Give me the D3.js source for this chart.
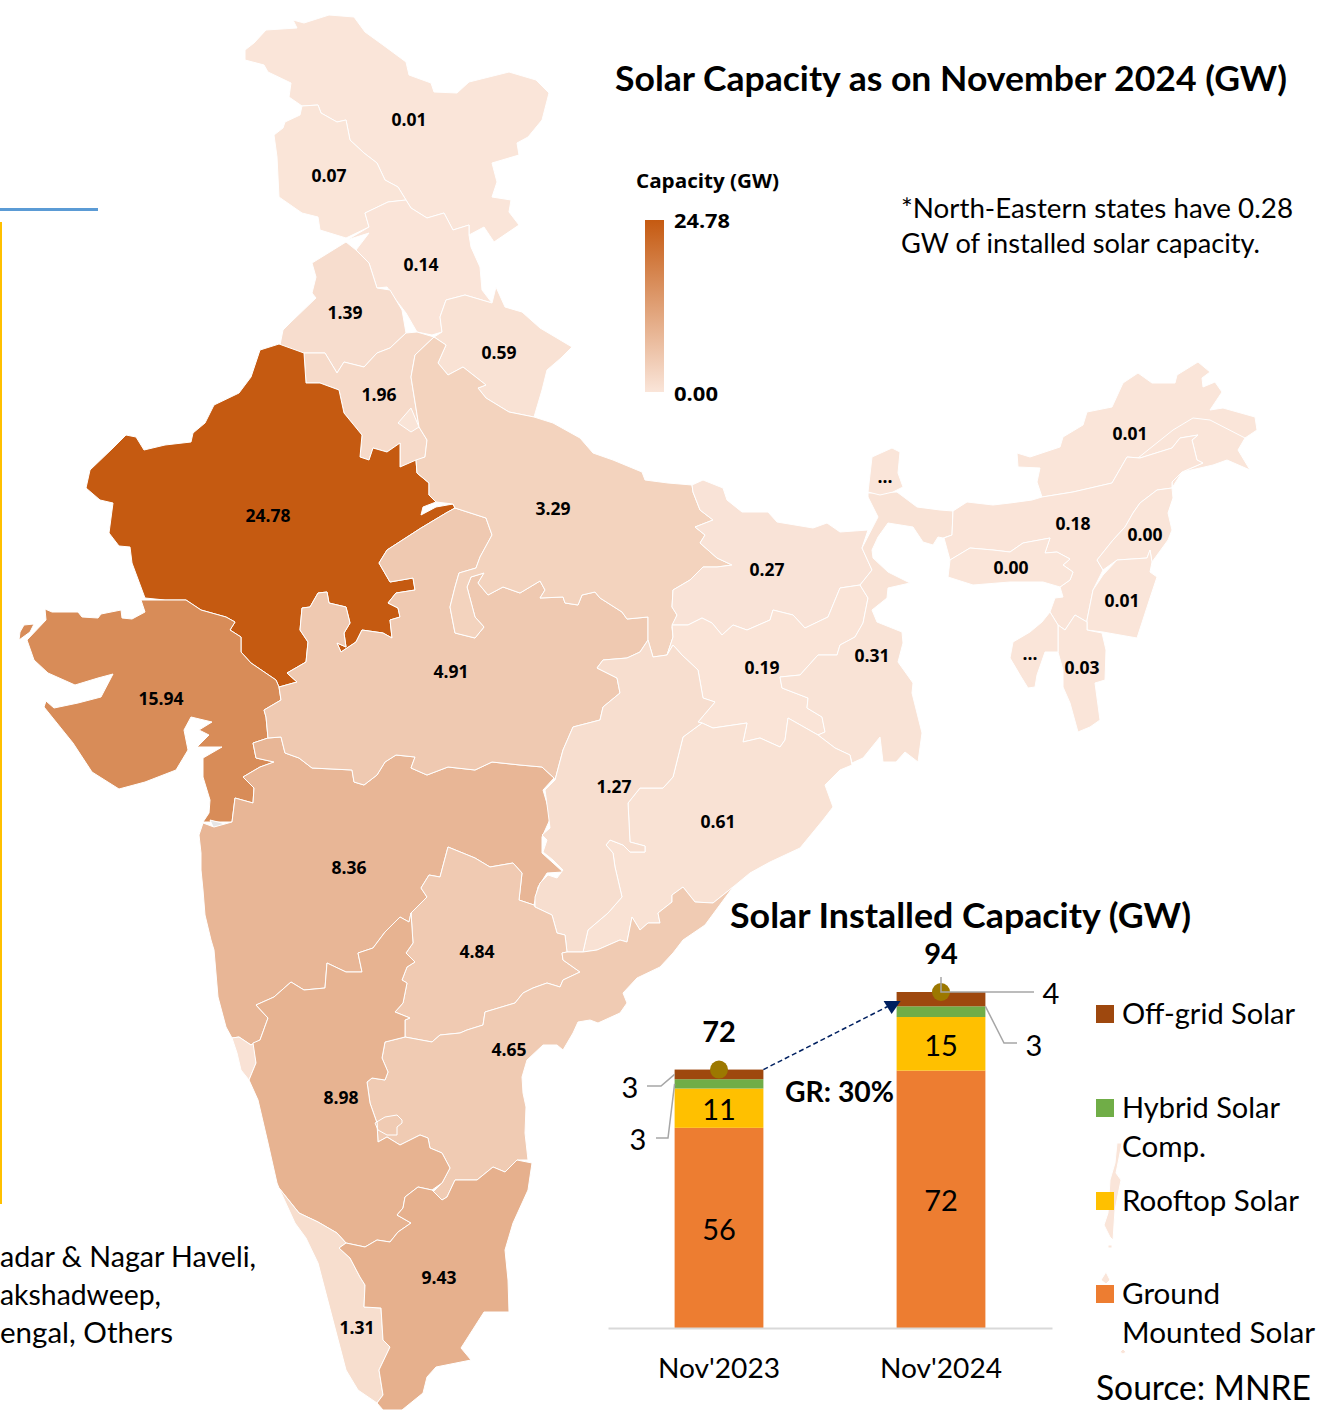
<!DOCTYPE html>
<html>
<head>
<meta charset="utf-8">
<script src="https://cdn.jsdelivr.net/npm/d3@7/dist/d3.min.js"></script>
<style>
body { margin: 0; background: #fff; }
svg { display: block; }
</style>
</head>
<body>
<svg></svg>
<script>
var ladakh = [[245,60],[245,50],[254,43],[266,30],[297,28],[293,20],[304,23],[329,15],[354,17],[365,32],[383,45],[406,62],[409,75],[431,83],[434,92],[457,93],[469,82],[509,72],[536,80],[549,93],[542,120],[528,137],[517,143],[519,155],[492,163],[497,182],[492,197],[511,200],[509,212],[519,225],[494,242],[484,227],[469,235],[469,225],[453,230],[444,213],[427,218],[411,208],[406,200],[398,187],[385,180],[377,163],[364,153],[350,140],[346,120],[337,122],[321,113],[318,105],[302,106],[289,97],[291,83],[268,72],[264,65]];
var jammu = [[302,106],[300,115],[285,122],[283,128],[274,135],[277,157],[279,197],[302,213],[318,217],[320,230],[346,238],[369,227],[365,213],[388,202],[406,200],[398,187],[385,180],[377,163],[364,153],[350,140],[346,120],[337,122],[321,113],[318,105]];
var himachal = [[347,240],[369,233],[356,250],[369,263],[377,288],[387,287],[396,300],[406,313],[417,332],[432,335],[442,332],[440,317],[446,300],[465,295],[492,303],[482,290],[480,267],[471,247],[469,235],[469,225],[453,230],[444,213],[427,218],[411,208],[406,200],[388,202],[365,213],[369,227]];
var uttarakhand = [[446,300],[465,295],[492,303],[496,287],[505,307],[522,312],[540,328],[572,347],[561,358],[547,370],[542,390],[534,417],[509,412],[486,398],[478,388],[486,385],[463,367],[448,375],[438,363],[446,345],[434,337],[442,332],[440,317]];
var punjab = [[346,242],[325,255],[312,263],[316,277],[312,293],[316,298],[291,322],[283,330],[279,350],[304,353],[325,353],[337,373],[344,362],[364,367],[377,353],[390,348],[406,333],[402,310],[390,290],[377,288],[369,263],[356,250]];
var haryana = [[304,353],[306,383],[320,383],[339,390],[344,413],[362,435],[360,457],[369,460],[373,448],[387,452],[400,443],[400,467],[425,457],[427,440],[419,427],[411,377],[415,355],[434,337],[417,332],[406,333],[390,348],[377,353],[364,367],[344,362],[337,373],[325,353]];
var delhi = [[411,408],[419,427],[411,432],[398,423]];
var rajasthan = [[279,344],[260,350],[251,377],[239,393],[214,405],[205,423],[193,433],[191,442],[165,445],[144,450],[136,437],[126,435],[113,448],[90,470],[86,488],[100,500],[113,503],[109,533],[119,546],[130,547],[132,563],[145,598],[165,600],[186,600],[201,610],[226,617],[235,622],[230,630],[241,637],[241,652],[251,663],[276,680],[279,687],[297,682],[287,673],[306,662],[308,642],[300,630],[302,608],[310,607],[318,593],[327,592],[329,603],[346,607],[350,623],[344,633],[346,647],[337,643],[341,652],[356,642],[362,630],[383,633],[392,638],[390,620],[400,617],[398,608],[388,603],[396,593],[415,590],[413,578],[390,582],[379,563],[387,550],[421,528],[446,513],[455,508],[453,504],[436,507],[421,515],[423,507],[436,502],[429,495],[429,483],[417,473],[416,460],[400,467],[400,443],[387,452],[373,448],[369,460],[360,457],[362,435],[344,413],[339,390],[320,383],[306,383],[304,353]];
var gujarat = [[141,600],[145,612],[132,619],[122,618],[121,610],[101,614],[98,618],[82,617],[78,612],[52,612],[45,609],[46,620],[27,640],[34,660],[48,673],[75,685],[98,678],[113,674],[101,697],[78,703],[54,708],[46,701],[44,707],[73,743],[92,772],[119,789],[145,782],[176,770],[188,750],[184,730],[191,717],[212,722],[199,730],[209,735],[197,747],[222,747],[203,758],[203,777],[210,800],[209,813],[203,822],[232,822],[235,798],[253,803],[254,788],[243,777],[260,767],[274,762],[256,758],[253,743],[268,738],[266,717],[264,710],[281,700],[279,687],[276,680],[251,663],[241,652],[241,637],[230,630],[235,622],[226,617],[201,610],[186,600],[165,600]];
var kutchIslands = [[20,632],[24,625],[34,624],[30,632],[19,640]];
var dadra = [[210,820],[222,823],[224,828],[214,829]];
var maharashtra = [[203,823],[199,835],[201,853],[201,870],[203,890],[205,915],[211,940],[214,950],[218,997],[226,1027],[232,1038],[239,1037],[251,1045],[260,1040],[268,1018],[256,1005],[274,997],[291,982],[304,990],[325,988],[327,963],[346,972],[362,972],[358,953],[373,948],[385,932],[400,917],[409,922],[411,913],[427,897],[421,888],[429,875],[440,877],[448,847],[475,858],[490,867],[513,863],[522,873],[519,900],[534,905],[538,887],[547,873],[563,872],[542,853],[542,837],[551,817],[543,790],[554,778],[542,767],[520,765],[492,762],[475,770],[448,767],[427,775],[411,768],[415,757],[396,755],[385,762],[377,775],[364,785],[354,782],[352,770],[312,768],[299,758],[285,753],[281,737],[268,738],[253,743],[256,758],[274,762],[260,767],[243,777],[254,788],[253,803],[235,798],[232,822],[214,827]];
var madhyaPradesh = [[281,700],[279,687],[297,682],[287,673],[306,662],[308,642],[300,630],[302,608],[310,607],[318,593],[327,592],[329,603],[346,607],[350,623],[344,633],[346,647],[337,643],[341,652],[356,642],[362,630],[383,633],[392,638],[390,620],[400,617],[398,608],[388,603],[396,593],[415,590],[413,578],[390,582],[379,563],[387,550],[421,528],[446,513],[455,508],[486,518],[492,535],[480,557],[476,568],[459,573],[455,587],[450,607],[455,633],[475,638],[484,627],[475,617],[467,587],[471,577],[484,573],[478,583],[488,595],[503,587],[520,593],[540,581],[545,590],[540,598],[563,597],[565,603],[578,605],[582,595],[595,592],[600,598],[622,612],[627,619],[648,617],[648,640],[640,652],[627,658],[603,660],[597,668],[617,678],[620,693],[603,707],[600,720],[573,727],[563,750],[555,780],[554,778],[542,767],[520,765],[492,762],[475,770],[448,767],[427,775],[411,768],[415,757],[396,755],[385,762],[377,775],[364,785],[354,782],[352,770],[312,768],[299,758],[285,753],[281,737],[268,738],[266,717],[264,710]];
var uttarPradesh = [[434,337],[446,345],[438,363],[448,375],[463,367],[486,385],[478,388],[486,398],[509,412],[534,417],[553,423],[580,438],[593,453],[613,460],[642,472],[645,480],[668,483],[692,485],[693,492],[700,510],[713,520],[695,527],[705,535],[700,543],[717,558],[732,565],[717,567],[703,567],[690,580],[673,590],[672,607],[677,615],[672,627],[673,637],[667,655],[653,657],[648,640],[648,617],[627,619],[622,612],[600,598],[595,592],[582,595],[578,605],[565,603],[563,597],[540,598],[545,590],[540,581],[520,593],[503,587],[488,595],[478,583],[484,573],[471,577],[467,587],[475,617],[484,627],[475,638],[455,633],[450,607],[455,587],[459,573],[476,568],[480,557],[492,535],[486,518],[455,508],[453,504],[436,502],[429,495],[429,483],[417,473],[416,460],[425,457],[427,440],[419,427],[411,377],[415,355]];
var bihar = [[692,485],[703,480],[723,488],[727,500],[742,512],[768,512],[777,522],[813,528],[827,523],[840,532],[868,530],[862,548],[872,570],[860,585],[840,588],[828,617],[805,628],[793,615],[773,610],[770,620],[747,630],[733,625],[722,635],[712,623],[702,618],[688,625],[672,625],[677,615],[672,607],[673,590],[690,580],[703,567],[717,567],[732,565],[717,558],[700,543],[705,535],[695,527],[713,520],[700,510],[693,492]];
var jharkhand = [[672,625],[688,625],[702,618],[712,623],[722,635],[733,625],[747,630],[770,620],[773,610],[793,615],[805,628],[828,617],[840,588],[860,585],[868,598],[863,623],[855,637],[840,645],[837,655],[818,655],[800,675],[780,677],[782,688],[808,698],[807,708],[822,717],[825,732],[818,735],[788,718],[785,740],[780,747],[760,738],[743,742],[747,723],[713,728],[702,723],[698,722],[715,702],[703,698],[698,670],[682,655],[673,645],[667,655],[673,637]];
var westBengal = [[868,598],[860,585],[872,570],[862,548],[878,517],[868,497],[868,493],[897,492],[917,507],[940,510],[953,511],[952,535],[943,538],[938,537],[933,545],[923,542],[913,527],[888,523],[878,537],[872,550],[873,558],[888,572],[910,583],[888,588],[887,598],[872,610],[877,622],[902,632],[903,643],[898,662],[913,683],[912,693],[922,733],[918,762],[905,752],[896,762],[883,762],[880,737],[863,758],[852,763],[850,755],[835,748],[818,735],[825,732],[822,717],[807,708],[808,698],[782,688],[780,677],[800,675],[818,655],[837,655],[840,645],[855,637],[863,623]];
var sikkim = [[872,457],[892,448],[900,452],[898,473],[903,487],[893,492],[880,495],[868,492]];
var odisha = [[702,723],[713,728],[747,723],[743,742],[760,738],[780,747],[785,740],[788,718],[818,735],[835,748],[850,755],[852,765],[840,770],[825,785],[833,807],[823,820],[800,848],[770,862],[750,873],[733,887],[713,903],[695,902],[683,887],[672,895],[672,902],[658,913],[660,923],[648,923],[640,930],[632,917],[627,942],[620,940],[597,950],[583,952],[588,930],[608,913],[622,897],[615,867],[613,853],[606,845],[610,840],[623,845],[630,852],[645,852],[645,846],[630,842],[628,803],[640,788],[663,788],[673,777],[678,757],[683,737]];
var chhattisgarh = [[555,780],[545,790],[548,812],[550,828],[542,835],[547,840],[543,852],[553,860],[563,870],[557,878],[548,875],[540,883],[535,897],[535,907],[552,915],[557,933],[565,935],[567,952],[583,952],[588,930],[608,913],[622,897],[615,867],[613,853],[606,845],[610,840],[623,845],[630,852],[645,852],[645,846],[630,842],[628,803],[640,788],[663,788],[673,777],[678,757],[683,737],[702,723],[698,722],[715,702],[703,698],[698,670],[682,655],[673,645],[667,655],[653,657],[648,640],[640,652],[627,658],[603,660],[597,668],[617,678],[620,693],[603,707],[600,720],[573,727],[563,750]];
var telangana = [[567,952],[562,953],[563,960],[580,972],[563,980],[560,987],[547,983],[533,988],[523,993],[515,1003],[485,1012],[483,1025],[467,1030],[460,1033],[440,1035],[432,1042],[405,1037],[405,1020],[410,1018],[395,1012],[403,1003],[407,983],[402,980],[407,967],[415,962],[406,953],[413,943],[411,913],[427,897],[421,888],[429,875],[440,877],[448,847],[475,858],[490,867],[513,863],[522,873],[519,900],[534,905],[535,907],[552,915],[557,933],[565,935]];
var andhra = [[567,952],[583,952],[597,950],[620,940],[627,942],[632,917],[640,930],[648,923],[660,923],[658,913],[672,902],[672,895],[683,887],[695,902],[713,903],[733,887],[705,925],[683,940],[673,953],[660,967],[637,978],[623,993],[627,1003],[620,1013],[598,1023],[590,1020],[578,1022],[573,1033],[563,1050],[557,1045],[543,1045],[527,1060],[522,1077],[523,1093],[526,1107],[525,1133],[528,1160],[517,1160],[505,1172],[493,1167],[477,1180],[455,1180],[447,1197],[442,1200],[433,1192],[442,1183],[450,1168],[442,1153],[430,1148],[428,1138],[420,1135],[400,1145],[387,1137],[378,1142],[377,1123],[370,1103],[367,1082],[372,1078],[385,1080],[388,1072],[382,1058],[385,1042],[405,1037],[432,1042],[440,1035],[460,1033],[467,1030],[483,1025],[485,1012],[515,1003],[523,993],[533,988],[547,983],[560,987],[563,980],[580,972],[563,960],[562,953]];
var goa = [[232,1038],[239,1037],[251,1045],[254,1043],[256,1063],[249,1080],[241,1070],[237,1053]];
var karnataka = [[253,1043],[260,1040],[268,1018],[256,1005],[274,997],[291,982],[304,990],[325,988],[327,963],[346,972],[362,972],[358,953],[373,948],[385,932],[400,917],[409,922],[411,913],[413,943],[406,953],[415,962],[407,967],[402,980],[407,983],[403,1003],[395,1012],[410,1018],[405,1020],[405,1037],[385,1042],[382,1058],[388,1072],[385,1080],[372,1078],[367,1082],[370,1103],[377,1123],[378,1142],[387,1137],[400,1145],[420,1135],[428,1138],[430,1148],[442,1153],[450,1168],[442,1183],[432,1190],[418,1187],[405,1197],[403,1208],[397,1215],[411,1223],[398,1232],[390,1242],[377,1240],[365,1247],[346,1243],[337,1233],[318,1222],[299,1213],[279,1188],[277,1183],[268,1143],[258,1100],[249,1080],[256,1063]];
var kerala = [[279,1188],[299,1213],[318,1222],[337,1233],[346,1243],[339,1248],[350,1258],[360,1277],[365,1285],[364,1307],[381,1308],[383,1340],[390,1347],[379,1370],[383,1395],[377,1403],[358,1390],[346,1370],[318,1263],[306,1238],[295,1223]];
var tamilNadu = [[339,1248],[346,1243],[365,1247],[377,1240],[390,1242],[398,1232],[411,1223],[397,1215],[403,1208],[405,1197],[418,1187],[432,1190],[442,1200],[447,1197],[455,1180],[477,1180],[493,1167],[505,1172],[517,1160],[532,1163],[528,1190],[513,1223],[505,1250],[508,1280],[509,1312],[484,1312],[461,1348],[471,1360],[436,1367],[427,1377],[423,1393],[402,1410],[383,1410],[377,1403],[383,1395],[379,1370],[390,1347],[383,1340],[381,1308],[364,1307],[365,1285],[360,1277],[350,1258]];
var arunachal = [[1017,453],[1030,457],[1060,447],[1063,437],[1083,425],[1087,412],[1112,407],[1123,383],[1138,373],[1152,383],[1175,383],[1177,375],[1198,362],[1210,372],[1202,378],[1203,387],[1215,382],[1222,392],[1210,410],[1223,408],[1255,417],[1257,430],[1245,438],[1238,450],[1250,470],[1227,460],[1213,465],[1200,468],[1182,472],[1172,482],[1173,498],[1172,488],[1182,472],[1203,463],[1197,460],[1192,440],[1198,435],[1180,438],[1172,448],[1140,458],[1127,457],[1112,483],[1073,492],[1042,497],[1037,482],[1040,468],[1018,467]];
var assam = [[953,511],[967,502],[993,505],[1010,503],[1032,500],[1042,497],[1073,492],[1112,483],[1127,457],[1140,458],[1172,448],[1180,438],[1198,435],[1192,440],[1197,460],[1203,463],[1182,472],[1172,482],[1172,488],[1157,490],[1140,503],[1133,513],[1125,527],[1113,540],[1097,560],[1103,570],[1093,590],[1087,620],[1087,622],[1075,615],[1065,630],[1058,625],[1050,612],[1055,598],[1063,597],[1060,587],[1070,580],[1073,572],[1063,565],[1070,559],[1057,552],[1045,553],[1050,538],[1023,543],[1010,552],[993,550],[970,548],[950,560],[944,538],[952,535]];
var nagaland = [[1172,488],[1157,490],[1140,503],[1133,513],[1125,527],[1113,540],[1097,560],[1103,570],[1117,560],[1147,558],[1150,550],[1152,562],[1168,540],[1172,530],[1168,513],[1173,498]];
var manipur = [[1117,560],[1147,558],[1150,550],[1152,562],[1150,572],[1157,577],[1150,598],[1137,638],[1103,632],[1087,630],[1087,620],[1093,590],[1103,575]];
var meghalaya = [[948,577],[950,560],[970,548],[993,550],[1010,552],[1023,543],[1050,538],[1045,553],[1057,552],[1070,559],[1063,565],[1073,572],[1070,580],[1060,587],[1043,582],[1010,582],[973,585]];
var mizoram = [[1058,625],[1065,630],[1075,615],[1087,622],[1087,630],[1102,633],[1106,650],[1105,680],[1095,683],[1100,720],[1090,727],[1078,732],[1070,703],[1063,687],[1063,670],[1058,652]];
var tripura = [[1050,612],[1058,625],[1058,652],[1045,652],[1037,675],[1035,687],[1028,688],[1020,675],[1010,658],[1013,642],[1030,632],[1042,622]];
var andamanNorth = [[1117,1143],[1122,1143],[1116,1173],[1121,1180],[1119,1190],[1115,1210],[1113,1240],[1110,1237],[1104,1225],[1108,1213],[1110,1180],[1115,1163]];
var andamanSmall = [[1108,1245],[1112,1245],[1112,1248],[1108,1248]];
var nicobarNorth = [[1106,1272],[1110,1280],[1106,1284],[1101,1280]];
var nicobarSouth = [[1123,1349],[1126,1352],[1123,1354],[1120,1352]];
//white lines inside a state: river strip in the north east and the ring near Bengaluru
var innerLines = [
  [[1138,458],[1173,430],[1193,418],[1210,420],[1245,438]],
  [[385,1117],[397,1115],[402,1120],[402,1123],[397,1127],[397,1135],[387,1135],[378,1130],[375,1123],[385,1117]]
];

var stateNames = ["Ladakh","Jammu & Kashmir","Himachal Pradesh","Uttarakhand","Punjab","Haryana","Delhi","Rajasthan","Gujarat","Kutch islands","Dadra","Maharashtra","Madhya Pradesh","Uttar Pradesh","Bihar","Jharkhand","West Bengal","Sikkim","Odisha","Chhattisgarh","Telangana","Andhra Pradesh","Goa","Karnataka","Kerala","Tamil Nadu","Arunachal Pradesh","Assam","Nagaland","Manipur","Meghalaya","Mizoram","Tripura","Andaman N","Andaman S","Nicobar N","Nicobar S"];
var stateValues = [0.01,0.07,0.14,0.59,1.39,1.96,0.25,24.78,15.94,15.94,null,8.36,4.91,3.29,0.27,0.19,0.31,0.01,0.61,1.27,4.84,4.65,0.5,8.98,1.31,9.43,0.01,0.18,0.00,0.01,0.00,0.03,0.01,0.03,0.03,0.03,0.03];
var stateShapes = [ladakh,jammu,himachal,uttarakhand,punjab,haryana,delhi,rajasthan,gujarat,kutchIslands,dadra,maharashtra,madhyaPradesh,uttarPradesh,bihar,jharkhand,westBengal,sikkim,odisha,chhattisgarh,telangana,andhra,goa,karnataka,kerala,tamilNadu,arunachal,assam,nagaland,manipur,meghalaya,mizoram,tripura,andamanNorth,andamanSmall,nicobarNorth,nicobarSouth];

//value labels on the map
var labelStates = ["Ladakh","Jammu & Kashmir","Himachal Pradesh","Punjab","Haryana","Uttarakhand","Rajasthan","Uttar Pradesh","Gujarat","Madhya Pradesh","Bihar","Jharkhand","West Bengal","Sikkim","Arunachal Pradesh","Assam","Nagaland","Meghalaya","Manipur","Mizoram","Tripura","Chhattisgarh","Odisha","Maharashtra","Telangana","Andhra Pradesh","Karnataka","Tamil Nadu","Kerala"];
var labelPoints = [[409,120],[329,176],[421,265],[345,313],[379,395],[499,353],[268,516],[553,509],[161,699],[451,672],[767,570],[762,668],[872,656],[885,477],[1130,434],[1073,524],[1145,535],[1011,568],[1122,601],[1082,668],[1030,654],[614,787],[718,822],[349,868],[477,952],[509,1050],[341,1098],[439,1278],[357,1328]];
var cutLabels = ["Sikkim","Tripura"];

////bar chart data
var categories = ["Nov'2023","Nov'2024"];
var seriesColors = ["#ED7D31","#FFC000","#70AD47","#9E480E"];
var groundSolar = [56,72];
var rooftopSolar = [11,15];
var hybridSolar = [2.6,3];
var offGridSolar = [2.7,4];
var totalLabels = [72,94];

var screen = { width: 1334, height: 1410 };
var svg = d3.select("svg")
  .attr("width", screen.width)
  .attr("height", screen.height);

var addText = function(str, x, y, size, weight, len, family, anchor)
{//y is the middle of the line
  var t = svg.append("text")
    .attr("x", x)
    .attr("y", y)
    .attr("dy", ".35em")
    .attr("text-anchor", anchor || "start")
    .attr("font-family", family || "Lato")
    .attr("font-size", size)
    .attr("font-weight", weight || 400)
    .attr("fill", "#000")
    .text(str);
  if(len)
  {
    t.attr("textLength", len).attr("lengthAdjust", "spacingAndGlyphs");
  }
  return t;
};

////map
var mapX = d3.scaleLinear().domain([0,screen.width]).range([0,screen.width]);
var mapY = d3.scaleLinear().domain([0,screen.height]).range([0,screen.height]);
var colorScale = d3.scaleLinear().domain([0,24.78]).range(["#FAE5D9","#C55A11"]);
var shapeLine = d3.line()
  .x(function(d){return mapX(d[0]);})
  .y(function(d){return mapY(d[1]);});

svg.append("g").classed("map",true)
  .selectAll("path")
  .data(stateShapes)
  .enter()
  .append("path")
  .attr("d", function(d){return shapeLine(d) + "Z";})
  .attr("fill", function(d,i){return stateValues[i]===null ? "#E7E6E6" : colorScale(stateValues[i]);})
  .attr("stroke", "#fff")
  .attr("stroke-width", 1)
  .attr("stroke-linejoin", "round");

svg.append("g").classed("innerLines",true)
  .selectAll("path")
  .data(innerLines)
  .enter()
  .append("path")
  .attr("d", shapeLine)
  .attr("fill", "none")
  .attr("stroke", "#fff")
  .attr("stroke-width", 1);

labelStates.forEach(function(name,i)
{//cut labels show dots because the value did not fit
  var value = stateValues[stateNames.indexOf(name)];
  var str = cutLabels.indexOf(name)>=0 ? "..." : d3.format(".2f")(value);
  addText(str, mapX(labelPoints[i][0]), mapY(labelPoints[i][1]), 17.5, 700, null, "Open Sans", "middle");
});

////left over pieces of the neighbouring panel
svg.append("rect").attr("x",0).attr("y",208).attr("width",98).attr("height",3).attr("fill","#5B9BD5");
svg.append("rect").attr("x",0).attr("y",222).attr("width",2).attr("height",982).attr("fill","#FFC000");
addText("adar & Nagar Haveli,", 0, 1257, 29, 400, 256);
addText("akshadweep,", 0, 1295, 29, 400, 161);
addText("engal, Others", 0, 1333, 29, 400, 173);

////titles and note
addText("Solar Capacity as on November 2024 (GW)", 615, 79, 34, 700, 672);
addText("*North-Eastern states have 0.28", 901, 209, 27, 400, 392);
addText("GW of installed solar capacity.", 901, 244, 27, 400, 359);

////colour legend
var defs = svg.append("defs");
var grad = defs.append("linearGradient").attr("id","capGrad")
  .attr("x1",0).attr("x2",0).attr("y1",0).attr("y2",1);
grad.append("stop").attr("offset","0%").attr("stop-color",colorScale(24.78));
grad.append("stop").attr("offset","100%").attr("stop-color",colorScale(0));
svg.append("rect").attr("x",645).attr("y",220).attr("width",19).attr("height",172).attr("fill","url(#capGrad)");
addText("Capacity (GW)", 636, 181, 20, 700, 143, "Open Sans");
addText("24.78", 674, 221, 20, 700, 56, "Open Sans");
addText("0.00", 674, 394, 20, 700, 44, "Open Sans");

////stacked bars
var xScale = d3.scaleBand()
  .domain(categories)
  .range([608,1052])
  .paddingInner(0.6)
  .paddingOuter(0.3);
var yScale = d3.scaleLinear()
  .domain([0,94])
  .range([1328,992]);

var rows = categories.map(function(c,i)
{
  return { cat: c, ground: groundSolar[i], rooftop: rooftopSolar[i], hybrid: hybridSolar[i], offgrid: offGridSolar[i] };
});
var seriesKeys = ["ground","rooftop","hybrid","offgrid"];
var stacked = d3.stack().keys(seriesKeys)(rows);

svg.append("g").classed("bars",true)
  .selectAll("g")
  .data(stacked)
  .enter()
  .append("g")
  .attr("fill", function(d,i){return seriesColors[i];})
  .selectAll("rect")
  .data(function(d){return d;})
  .enter()
  .append("rect")
  .attr("x", function(d){return xScale(d.data.cat);})
  .attr("width", xScale.bandwidth())
  .attr("y", function(d){return yScale(d[1]);})
  .attr("height", function(d){return yScale(d[0])-yScale(d[1]);});

var xAxis = d3.axisBottom(xScale).tickSize(0).tickPadding(31);
var xAxisG = svg.append("g").classed("xAxis",true)
  .attr("transform","translate(0,1328)")
  .call(xAxis);
xAxisG.select(".domain").attr("stroke","#D9D9D9").attr("stroke-width",2);
xAxisG.selectAll("text")
  .attr("font-family","Lato")
  .attr("font-size",27)
  .attr("fill","#000")
  .attr("textLength",122)
  .attr("lengthAdjust","spacingAndGlyphs");

//labels inside the bars
var centerOf = function(c){return xScale(c)+xScale.bandwidth()/2;};
var insideKeys = [0,1];
insideKeys.forEach(function(k)
{
  stacked[k].forEach(function(d)
  {
    addText(d[1]-d[0], centerOf(d.data.cat), yScale((d[0]+d[1])/2)+2, 29, 400, null, "Lato", "middle");
  });
});

//totals with a dot at the top of each bar
var barTops = rows.map(function(r){return r.ground+r.rooftop+r.hybrid+r.offgrid;});
svg.append("g").classed("dots",true)
  .selectAll("circle")
  .data(barTops)
  .enter()
  .append("circle")
  .attr("cx", function(d,i){return centerOf(categories[i]);})
  .attr("cy", function(d){return yScale(d);})
  .attr("r", 9)
  .attr("fill", "#9C7800");
categories.forEach(function(c,i)
{
  addText(totalLabels[i], centerOf(c), yScale(barTops[i])-38, 29, 700, null, "Lato", "middle");
});

//leader lines and outside labels
var leader = d3.line();
var leaderPath = function(pts)
{
  svg.append("path").attr("d",leader(pts)).attr("fill","none").attr("stroke","#A6A6A6").attr("stroke-width",1.5);
};
var x0 = xScale(categories[0]);
var x1 = centerOf(categories[1]);
var xEnd1 = xScale(categories[1])+xScale.bandwidth();
var offTop0 = yScale(barTops[0]-offGridSolar[0]/2);
var hybTop0 = yScale(groundSolar[0]+rooftopSolar[0]+hybridSolar[0]/2);
leaderPath([[647,1086],[661,1086],[x0,offTop0]]);
leaderPath([[656,1138],[668,1138],[x0,hybTop0]]);
leaderPath([[x1,977],[x1,yScale(barTops[1])],[1034,yScale(barTops[1])]]);
leaderPath([[xEnd1,yScale(groundSolar[1]+rooftopSolar[1]+hybridSolar[1])],[1004,1043],[1017,1043]]);
addText(Math.round(offGridSolar[0]), 630, 1088, 29, 400, null, "Lato", "middle");
addText(Math.round(hybridSolar[0]), 638, 1140, 29, 400, null, "Lato", "middle");
addText(offGridSolar[1], 1051, 994, 29, 400, null, "Lato", "middle");
addText(hybridSolar[1], 1034, 1046, 29, 400, null, "Lato", "middle");

//growth arrow
var arrowEnd = [xScale(categories[1]), yScale(barTops[1])+10];
svg.append("path")
  .attr("d", d3.line()([[xScale(categories[0])+xScale.bandwidth(), yScale(barTops[0])],arrowEnd]))
  .attr("fill","none")
  .attr("stroke","#002060")
  .attr("stroke-width",1.5)
  .attr("stroke-dasharray","5 3");
svg.append("path")
  .attr("d", d3.line()([[arrowEnd[0]-13,arrowEnd[1]-1],[arrowEnd[0]+4,arrowEnd[1]-1],[arrowEnd[0]-5,arrowEnd[1]+12]]) + "Z")
  .attr("fill","#002060");
addText("GR: 30%", 785, 1092, 29, 700, 109);

////bar chart title, legend and source
addText("Solar Installed Capacity (GW)", 730, 916, 34, 700, 461);
var legendY = [1005,1099,1192,1285];
var legendLines = [["Off-grid Solar"],["Hybrid Solar","Comp."],["Rooftop Solar"],["Ground","Mounted Solar"]];
var legendWidths = [[173],[158,84],[177],[98,193]];
var legendOrder = [3,2,1,0];//index into seriesColors, top row first
legendY.forEach(function(y,i)
{
  svg.append("rect").attr("x",1096).attr("y",y).attr("width",18).attr("height",18)
    .attr("fill",seriesColors[legendOrder[i]]);
  legendLines[i].forEach(function(line,j)
  {
    addText(line, 1122, y+9+j*39, 29, 400, legendWidths[i][j]);
  });
});
addText("Source: MNRE", 1096, 1388, 34, 400, 215);
</script>
</body>
</html>
